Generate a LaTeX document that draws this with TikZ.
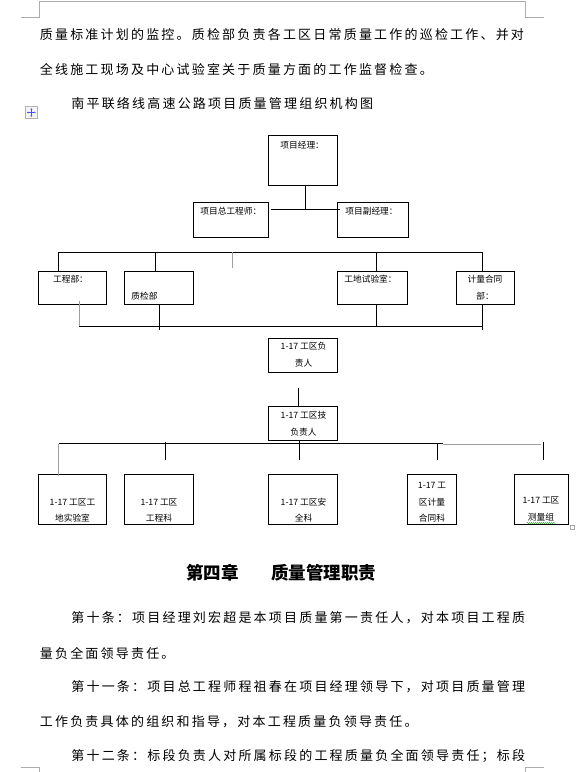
\documentclass[tikz,border=0pt]{standalone}
\usepackage{fontspec}
\usepackage{tikz}
\usetikzlibrary{arrows.meta,decorations.pathmorphing}
\newfontfamily\zh{Noto Sans CJK SC}
\newfontfamily\zhsp{Noto Sans CJK SC}[LetterSpace=16.9]
\newcommand\bodyfont{\zhsp\fontsize{13}{15}\selectfont}
\newcommand\chartfont{\zh\fontsize{8.7}{16.6}\selectfont}
\newcommand\headfont{\zh\bfseries\fontsize{17.5}{20}\selectfont}

\begin{document}
\begin{tikzpicture}[x=1pt,y=-1pt,line width=0.8pt,
  box/.style={draw,inner sep=0pt,outer sep=0pt},
  lbl/.style={font=\chartfont,inner sep=0pt,anchor=base west},
  ctr/.style={font=\chartfont,inner sep=0pt,anchor=base,align=center},
  txt/.style={font=\bodyfont,inner sep=0pt,anchor=base west},
  faint/.style={draw=gray!75,line width=0.9pt},
  pagemark/.style={draw=gray!65,line width=0.8pt}]
\useasboundingbox (0,0) rectangle (579,772);

% page corners
\draw[pagemark] (20.7,17.3) -- (39.3,17.3) -- (39.3,1.7) -- (525.7,1.7)
  -- (525.7,17.3) -- (544,17.3);
\draw[pagemark] (20.7,767.7) -- (39.3,767.7) -- (39.3,772);
\draw[pagemark] (544,767.7) -- (525.7,767.7) -- (525.7,772);

% running text above
\node[txt] (l1) at (39.5,39.9)
  {质量标准计划的监控。质检部负责各工区日常质量工作的巡检工作、并对};
\node[txt] (l2) at (39.5,74.9)
  {全线施工现场及中心试验室关于质量方面的工作监督检查。};
\node[txt] (title) at (71,108.2) {南平联络线高速公路项目质量管理组织机构图};

% table anchor handle
\draw[gray!60,fill=gray!8,line width=0.6pt] (25,106.7) rectangle (37.7,118.3);
\draw[blue!70,line width=0.6pt,{Latex[length=1.4pt,width=2.2pt]}-{Latex[length=1.4pt,width=2.2pt]}]
  (27,112.5) -- (35.7,112.5);
\draw[blue!70,line width=0.6pt,{Latex[length=1.4pt,width=2.2pt]}-{Latex[length=1.4pt,width=2.2pt]}]
  (31.35,108.2) -- (31.35,116.8);

% top level
\node[box,minimum width=69,minimum height=50] (pm) at (302.5,160) {};
\node[box,minimum width=75,minimum height=35] (chief) at (230.5,219.5) {};
\node[box,minimum width=71,minimum height=35] (vice) at (372.5,219.5) {};
\node[lbl] (pm-t) at (280,148.3) {项目经理：};
\node[lbl] (chief-t) at (200,214.3) {项目总工程师：};
\node[lbl] (vice-t) at (345,214.3) {项目副经理：};
\coordinate (j1) at (305,209);
\draw (pm.south -| j1) -- (j1);
\draw ([xshift=2.5pt]chief.east |- j1) -- ([xshift=3pt]vice.west |- j1);

% departments
\node[box,minimum width=68,minimum height=33] (gcb) at (72,287.5) {};
\node[box,minimum width=69,minimum height=33] (zjb) at (158.5,287.5) {};
\node[box,minimum width=70,minimum height=33] (gdsy) at (372,287.5) {};
\node[box,minimum width=58,minimum height=33] (jlht) at (485,287.5) {};
\node[lbl] (gcb-t) at (52.7,282.6) {工程部：};
\node[lbl] (zjb-t) at (131,299.3) {质检部};
\node[lbl] (gdsy-t) at (344,282.6) {工地试验室：};
\node[ctr] (jlht-t) at (485,299.3) {计量合同\\部：};

\coordinate (ta) at (58,252);
\coordinate (tb) at (155,252);
\coordinate (tc) at (232.5,252);
\coordinate (td) at (376,252);
\coordinate (te) at (482,252);
\draw (ta) -- (te);
\draw (ta) -- (ta |- gcb.north);
\draw (tb) -- (tb |- zjb.north);
\draw[faint] (tc) -- ([yshift=-16pt]tc);
\draw (td) -- (td |- gdsy.north);
\draw (te) -- (te |- jlht.north);

\coordinate (ba) at (79,326);
\coordinate (bb) at (159.5,326);
\coordinate (bc) at (376,326);
\coordinate (be) at (482,326);
\draw (ba) -- (be);
\draw[faint] ([yshift=3pt]ba |- gcb.south) -- (ba);
\draw (bb |- zjb.south) -- ([yshift=-4pt]bb);
\draw (bc |- gdsy.south) -- (bc);
\draw (be |- jlht.south) -- ([yshift=-4pt]be);

% section leaders
\node[box,minimum width=69,minimum height=34] (resp) at (302.5,355) {};
\node[box,minimum width=69,minimum height=34] (tech) at (302.5,423) {};
\node[ctr] (resp-t) at (303.5,366.3) {1-17 工区负\\责人};
\node[ctr] (tech-t) at (303.5,435.3) {1-17 工区技\\负责人};
\coordinate (m1) at (298,388);
\draw (m1) -- (m1 |- tech.north);

% section offices
\node[box,minimum width=68,minimum height=50] (b1) at (72,499.3) {};
\node[box,minimum width=69,minimum height=50] (b2) at (158.5,499.3) {};
\node[box,minimum width=68.5,minimum height=50] (b3) at (302.75,499.3) {};
\node[box,minimum width=49.2,minimum height=50] (b4) at (432,499.3) {};
\node[box,minimum width=54,minimum height=50] (b5) at (541.3,499.3) {};
\node[ctr] (b1-t) at (72.5,521.6) {1-17 工区工\\地实验室};
\node[ctr] (b2-t) at (159,521.6) {1-17 工区\\工程科};
\node[ctr] (b3-t) at (303.5,521.6) {1-17 工区安\\全科};
\node[ctr] (b4-t) at (432,521.6) {1-17 工\\区计量\\合同科};
\node[ctr] (b5-t) at (541,520.5) {1-17 工区\\测量组};
\draw[green!55!black,line width=0.5pt,decorate,
  decoration={snake,amplitude=0.5pt,segment length=2pt}] (527,523) -- (555,523);
\draw[gray!70,line width=0.5pt] (570.5,525.5) rectangle (574.5,529.5);

\coordinate (ca) at (58.6,443.5);
\coordinate (cb) at (165,443.5);
\coordinate (cc) at (299,443.5);
\coordinate (cd) at (437.3,443.5);
\coordinate (cg) at (443,443.5);
\coordinate (ce) at (543.3,443.5);
\draw (ca) -- (cg);
\draw[faint] ([yshift=-1pt]cg) -- ([yshift=-1pt,xshift=-2.5pt]ce);
\draw[faint] (ca) -- ([yshift=-2pt]ca |- b1.north);
\draw ([yshift=1.5pt]cb) -- ([yshift=-16.5pt]cb);
\draw (tech.south -| cc) -- ([yshift=-16.5pt]cc);
\draw (cd) -- ([yshift=-16.5pt]cd);
\draw ([yshift=1.5pt]ce) -- ([yshift=-16.5pt]ce);

% chapter text below
\node[txt,font=\headfont] (head) at (186,579) {第四章\hspace{32.4pt}质量管理职责};
\node[txt] (p1) at (71,622.9)
  {第十条：项目经理刘宏超是本项目质量第一责任人，对本项目工程质};
\node[txt] (p2) at (39.5,658.9) {量负全面领导责任。};
\node[txt] (p3) at (71,691.9)
  {第十一条：项目总工程师程祖春在项目经理领导下，对项目质量管理};
\node[txt] (p4) at (39.5,726.4)
  {工作负责具体的组织和指导，对本工程质量负领导责任。};
\node[txt] (p5) at (71,760.9)
  {第十二条：标段负责人对所属标段的工程质量负全面领导责任；标段};
\end{tikzpicture}
\end{document}
